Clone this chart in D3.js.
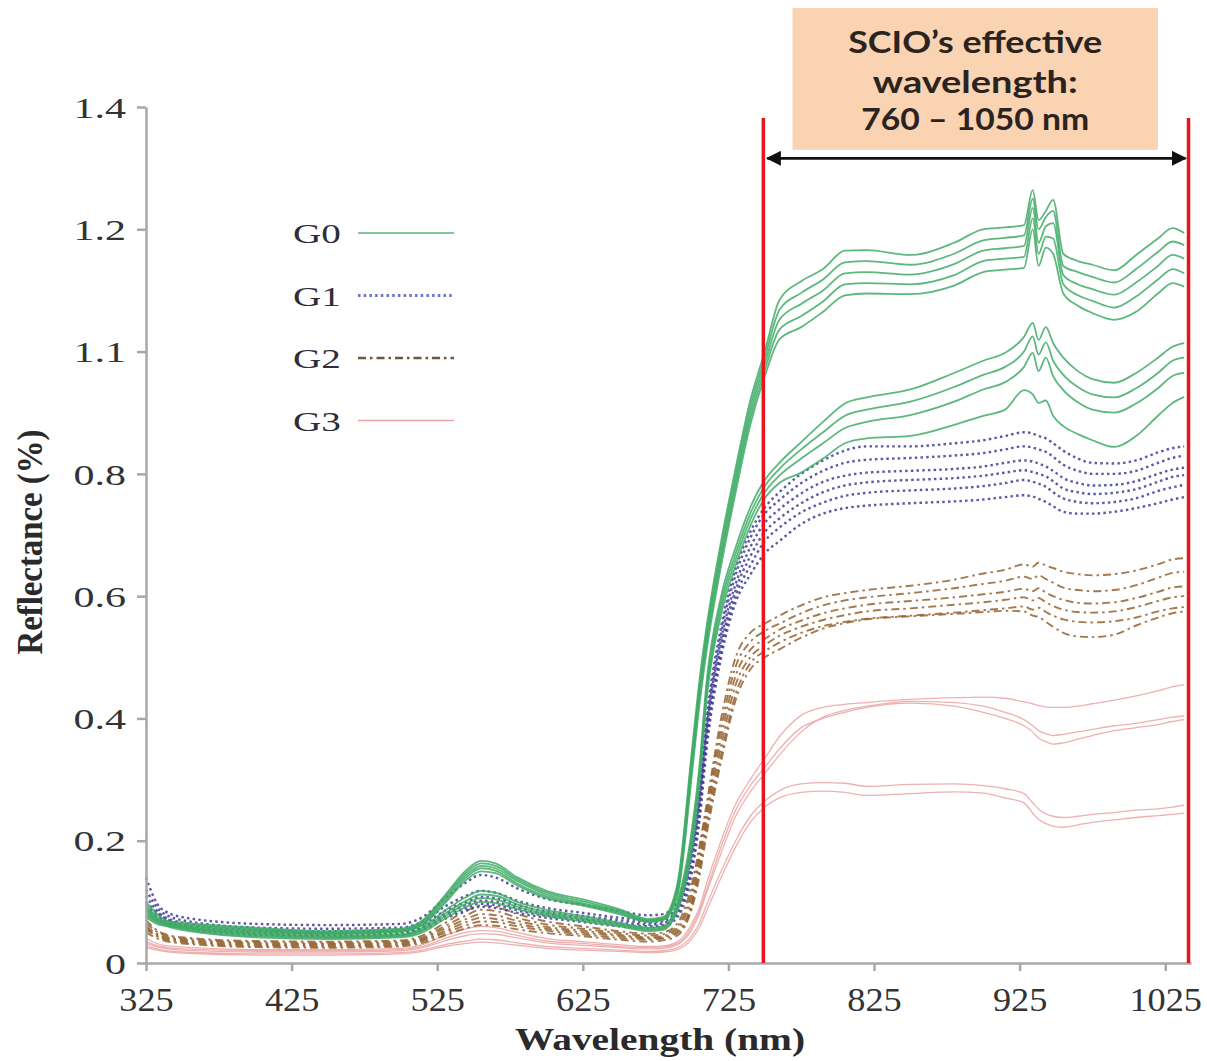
<!DOCTYPE html>
<html>
<head>
<meta charset="utf-8">
<script src="https://cdn.jsdelivr.net/npm/d3@7"></script>
<style>
  html, body { margin: 0; padding: 0; background: #fff; }
  svg { display: block; }
</style>
</head>
<body>
<div id="chart"></div>
<script>
// Wavelengths (nm) shared by every spectrum below
const WAVELENGTHS = [325, 335, 350, 400, 450, 500, 515, 530, 545, 555, 565, 580,
  600, 625, 650, 670, 680, 690, 700, 705, 710, 720, 730, 740, 750, 760, 775, 790,
  805, 820, 850, 880, 900, 915, 928, 934, 938, 943, 948, 955, 965, 975, 990, 1005,
  1020, 1030, 1038];

// G0 – upper bundle (highest NIR plateau)
const G0_UPPER = [
  [0.09,0.07,0.066,0.058,0.052,0.056,0.07,0.11,0.152,0.167,0.163,0.14,0.118,0.104,0.088,0.072,0.075,0.13,0.35,0.46,0.55,0.69,0.81,0.92,1.0,
   1.084,1.115,1.135,1.165,1.166,1.158,1.178,1.2,1.203,1.207,1.264,1.215,1.23,1.248,1.16,1.148,1.142,1.133,1.158,1.185,1.202,1.194],
  [0.085,0.068,0.064,0.056,0.05,0.054,0.068,0.107,0.148,0.163,0.159,0.137,0.115,0.101,0.086,0.07,0.073,0.125,0.34,0.45,0.54,0.68,0.8,0.91,0.99,
   1.068,1.096,1.118,1.146,1.148,1.142,1.16,1.182,1.186,1.19,1.25,1.2,1.22,1.23,1.14,1.13,1.122,1.113,1.135,1.163,1.18,1.174],
  [0.08,0.066,0.062,0.054,0.049,0.053,0.066,0.104,0.144,0.159,0.155,0.134,0.112,0.098,0.084,0.069,0.072,0.12,0.33,0.44,0.53,0.67,0.79,0.9,0.98,
   1.052,1.078,1.1,1.128,1.13,1.126,1.143,1.165,1.169,1.173,1.235,1.178,1.205,1.21,1.125,1.11,1.102,1.093,1.113,1.14,1.158,1.152],
  [0.078,0.064,0.06,0.052,0.048,0.052,0.064,0.1,0.14,0.155,0.151,0.13,0.109,0.096,0.082,0.068,0.071,0.115,0.32,0.43,0.52,0.66,0.78,0.89,0.97,
   1.036,1.058,1.082,1.11,1.112,1.11,1.125,1.148,1.152,1.155,1.218,1.16,1.188,1.185,1.11,1.092,1.083,1.072,1.09,1.118,1.135,1.128],
  [0.075,0.062,0.058,0.05,0.047,0.051,0.062,0.097,0.136,0.15,0.147,0.127,0.106,0.094,0.08,0.067,0.07,0.11,0.31,0.42,0.51,0.65,0.77,0.88,0.96,
   1.02,1.04,1.065,1.092,1.095,1.094,1.108,1.13,1.134,1.137,1.2,1.14,1.17,1.16,1.095,1.075,1.063,1.052,1.065,1.095,1.112,1.106]
];

// G0 – lower bundle
const G0_LOWER = [
  [0.1,0.075,0.06,0.048,0.044,0.047,0.058,0.085,0.108,0.118,0.115,0.1,0.087,0.077,0.066,0.058,0.06,0.1,0.22,0.32,0.46,0.6,0.68,0.745,0.79,
   0.818,0.852,0.885,0.915,0.925,0.938,0.965,0.985,0.998,1.024,1.047,1.019,1.04,1.014,0.99,0.968,0.955,0.949,0.965,0.99,1.008,1.014],
  [0.095,0.07,0.058,0.046,0.042,0.045,0.055,0.08,0.102,0.112,0.11,0.096,0.083,0.074,0.064,0.056,0.058,0.095,0.21,0.31,0.45,0.59,0.67,0.735,0.78,
   0.808,0.84,0.868,0.895,0.905,0.918,0.942,0.962,0.975,1.0,1.025,0.995,1.015,0.985,0.962,0.942,0.93,0.925,0.94,0.965,0.985,0.99],
  [0.09,0.068,0.056,0.044,0.041,0.044,0.053,0.076,0.097,0.106,0.104,0.092,0.08,0.071,0.062,0.054,0.056,0.09,0.2,0.3,0.44,0.58,0.66,0.725,0.77,
   0.797,0.825,0.85,0.875,0.885,0.896,0.918,0.938,0.95,0.975,0.998,0.968,0.99,0.96,0.937,0.917,0.905,0.9,0.915,0.94,0.96,0.965],
  [0.085,0.065,0.054,0.042,0.039,0.042,0.05,0.072,0.092,0.1,0.098,0.088,0.077,0.068,0.06,0.052,0.054,0.085,0.19,0.29,0.43,0.57,0.65,0.715,0.76,
   0.785,0.802,0.825,0.85,0.858,0.862,0.88,0.895,0.905,0.937,0.93,0.916,0.92,0.895,0.878,0.865,0.855,0.844,0.862,0.895,0.916,0.926]
];

// G1 – blue dotted
const G1_CURVES = [
  [0.14,0.09,0.075,0.064,0.062,0.064,0.075,0.105,0.132,0.144,0.14,0.122,0.105,0.095,0.085,0.078,0.08,0.1,0.2,0.28,0.4,0.55,0.645,0.705,0.745,
   0.77,0.8,0.822,0.838,0.845,0.845,0.85,0.855,0.862,0.868,0.866,0.862,0.858,0.85,0.838,0.825,0.818,0.817,0.822,0.835,0.842,0.845],
  [0.12,0.085,0.07,0.058,0.056,0.058,0.068,0.092,0.11,0.118,0.115,0.102,0.09,0.082,0.074,0.07,0.072,0.095,0.19,0.27,0.39,0.54,0.635,0.695,0.735,
   0.757,0.785,0.805,0.818,0.823,0.826,0.83,0.834,0.84,0.845,0.843,0.84,0.836,0.828,0.815,0.805,0.8,0.8,0.805,0.818,0.826,0.83],
  [0.11,0.08,0.066,0.054,0.052,0.054,0.063,0.085,0.1,0.108,0.106,0.095,0.084,0.077,0.07,0.066,0.068,0.09,0.18,0.26,0.38,0.53,0.62,0.68,0.72,
   0.742,0.768,0.787,0.797,0.802,0.805,0.808,0.812,0.818,0.822,0.82,0.817,0.812,0.805,0.793,0.785,0.781,0.782,0.788,0.8,0.807,0.81],
  [0.1,0.078,0.063,0.051,0.049,0.051,0.06,0.08,0.095,0.102,0.1,0.09,0.08,0.073,0.066,0.063,0.065,0.085,0.17,0.25,0.37,0.52,0.61,0.665,0.705,
   0.727,0.752,0.77,0.781,0.786,0.79,0.793,0.797,0.802,0.806,0.803,0.8,0.796,0.788,0.776,0.77,0.767,0.769,0.775,0.787,0.795,0.798],
  [0.095,0.075,0.06,0.048,0.046,0.048,0.057,0.076,0.09,0.097,0.095,0.086,0.077,0.07,0.063,0.06,0.062,0.08,0.16,0.24,0.36,0.51,0.6,0.65,0.69,
   0.712,0.737,0.753,0.764,0.769,0.773,0.776,0.78,0.785,0.79,0.787,0.784,0.779,0.77,0.76,0.754,0.752,0.754,0.76,0.772,0.778,0.782],
  [0.09,0.072,0.058,0.046,0.044,0.046,0.054,0.072,0.086,0.092,0.09,0.082,0.074,0.067,0.06,0.057,0.06,0.075,0.15,0.23,0.35,0.5,0.59,0.635,0.67,
   0.69,0.718,0.735,0.744,0.748,0.752,0.755,0.758,0.762,0.765,0.763,0.759,0.754,0.747,0.738,0.735,0.735,0.738,0.744,0.752,0.758,0.762]
];

// G2 – brown dash-dot
const G2_CURVES = [
  [0.07,0.05,0.042,0.036,0.035,0.037,0.045,0.065,0.085,0.094,0.092,0.08,0.068,0.06,0.052,0.048,0.05,0.065,0.13,0.19,0.26,0.4,0.5,0.54,0.555,
   0.568,0.585,0.598,0.605,0.61,0.617,0.627,0.637,0.643,0.652,0.648,0.655,0.65,0.646,0.64,0.636,0.634,0.636,0.642,0.652,0.66,0.662],
  [0.065,0.048,0.04,0.034,0.033,0.035,0.042,0.06,0.078,0.087,0.085,0.074,0.063,0.056,0.049,0.045,0.047,0.06,0.12,0.18,0.25,0.385,0.485,0.525,0.543,
   0.555,0.572,0.585,0.593,0.598,0.605,0.613,0.62,0.625,0.632,0.628,0.634,0.628,0.622,0.614,0.61,0.608,0.61,0.618,0.63,0.638,0.64],
  [0.06,0.045,0.038,0.032,0.031,0.033,0.04,0.056,0.072,0.08,0.078,0.069,0.059,0.053,0.046,0.042,0.044,0.056,0.11,0.17,0.24,0.37,0.47,0.512,0.53,
   0.545,0.56,0.572,0.58,0.586,0.592,0.598,0.603,0.607,0.612,0.608,0.613,0.606,0.6,0.594,0.589,0.588,0.59,0.597,0.607,0.614,0.616],
  [0.058,0.043,0.036,0.03,0.029,0.031,0.038,0.052,0.067,0.074,0.072,0.064,0.056,0.05,0.044,0.04,0.042,0.052,0.1,0.16,0.23,0.355,0.455,0.5,0.52,
   0.535,0.55,0.561,0.569,0.575,0.58,0.586,0.59,0.594,0.598,0.593,0.597,0.59,0.584,0.578,0.574,0.573,0.575,0.582,0.592,0.598,0.6],
  [0.055,0.041,0.034,0.028,0.027,0.029,0.036,0.049,0.062,0.068,0.067,0.06,0.053,0.047,0.041,0.038,0.04,0.049,0.095,0.15,0.22,0.34,0.44,0.49,0.51,
   0.524,0.54,0.551,0.558,0.563,0.568,0.573,0.577,0.58,0.583,0.578,0.581,0.574,0.568,0.562,0.558,0.557,0.559,0.565,0.575,0.58,0.582],
  [0.05,0.038,0.032,0.026,0.025,0.027,0.033,0.045,0.057,0.062,0.061,0.055,0.049,0.044,0.038,0.035,0.037,0.045,0.09,0.14,0.21,0.33,0.43,0.48,0.5,
   0.513,0.532,0.547,0.556,0.562,0.567,0.571,0.574,0.576,0.575,0.568,0.566,0.558,0.55,0.54,0.534,0.533,0.537,0.552,0.565,0.572,0.575]
];

// G3 – pink solid
const G3_CURVES = [
  [0.04,0.03,0.026,0.022,0.022,0.024,0.03,0.045,0.056,0.06,0.058,0.05,0.04,0.035,0.03,0.027,0.028,0.035,0.065,0.09,0.13,0.2,0.26,0.3,0.335,
   0.37,0.405,0.418,0.423,0.426,0.431,0.434,0.435,0.433,0.427,0.424,0.421,0.419,0.418,0.418,0.42,0.424,0.43,0.437,0.445,0.452,0.455],
  [0.035,0.027,0.023,0.02,0.02,0.022,0.027,0.04,0.05,0.053,0.052,0.045,0.036,0.032,0.027,0.025,0.026,0.032,0.06,0.085,0.12,0.19,0.25,0.29,0.32,
   0.35,0.385,0.4,0.41,0.418,0.425,0.42,0.41,0.4,0.388,0.378,0.368,0.362,0.358,0.36,0.366,0.372,0.38,0.385,0.39,0.395,0.398],
  [0.032,0.025,0.021,0.018,0.018,0.02,0.025,0.036,0.045,0.048,0.047,0.041,0.033,0.029,0.025,0.023,0.024,0.03,0.055,0.08,0.115,0.18,0.24,0.28,0.31,
   0.34,0.378,0.402,0.413,0.42,0.428,0.426,0.42,0.41,0.398,0.388,0.38,0.375,0.372,0.374,0.378,0.382,0.388,0.392,0.398,0.402,0.404],
  [0.028,0.022,0.018,0.015,0.015,0.017,0.021,0.03,0.036,0.039,0.038,0.033,0.027,0.024,0.021,0.019,0.02,0.025,0.045,0.065,0.095,0.15,0.2,0.24,0.265,
   0.282,0.293,0.295,0.294,0.289,0.292,0.293,0.29,0.285,0.277,0.262,0.252,0.244,0.24,0.238,0.24,0.243,0.246,0.25,0.252,0.255,0.258],
  [0.025,0.02,0.016,0.013,0.013,0.015,0.019,0.027,0.032,0.034,0.033,0.029,0.024,0.021,0.019,0.017,0.018,0.022,0.04,0.058,0.085,0.14,0.19,0.23,0.255,
   0.27,0.279,0.281,0.279,0.274,0.277,0.28,0.278,0.27,0.262,0.245,0.235,0.228,0.224,0.222,0.226,0.23,0.234,0.238,0.241,0.243,0.245]
];

const GROUPS = ['G0', 'G1', 'G2', 'G3'];
const X_TICKS = [325, 425, 525, 625, 725, 825, 925, 1025];
const Y_TICKS = [0, 0.2, 0.4, 0.6, 0.8, 1.0, 1.2, 1.4];
const Y_TICK_LABELS = ['0', '0.2', '0.4', '0.6', '0.8', '1.1', '1.2', '1.4'];

// SCIO annotation (in data units: nm / reflectance)
const SCIO_LINES_NM = [749, 1041];
const SCIO_NOTE = ['SCIO\u2019s effective', 'wavelength:', '760 \u2013 1050 nm'];

// ---- styles ----
const STYLE = {
  G0: { color: '#3fab66', width: 1.8, dash: null },
  G1: { color: '#3f3d96', width: 2.4, dash: '2.5,3.2' },
  G2: { color: '#94612f', width: 1.9, dash: '8,4,2.5,4' },
  G3: { color: '#eba3a3', width: 1.3, dash: null }
};
const LEGEND_COLORS = { G0: '#86c59f', G1: '#7174c4', G2: '#6d5743', G3: '#f0a3a3' };
const SERIF = "'Liberation Serif', 'Times New Roman', serif";

const W = 1207, H = 1061;
const svg = d3.select('#chart').append('svg')
  .attr('width', W).attr('height', H)
  .style('background', '#fff');

const x = d3.scaleLinear().domain([325, 1042.7]).range([146, 1191]);
const y = d3.scaleLinear().domain([0, 1.4]).range([963, 107]);

// ---- spectra ----
const line = d3.line()
  .x((d, i) => x(WAVELENGTHS[i]))
  .y(d => y(d))
  .curve(d3.curveMonotoneX);

const series = [
  { group: 'G3', curves: G3_CURVES },
  { group: 'G2', curves: G2_CURVES },
  { group: 'G1', curves: G1_CURVES },
  { group: 'G0', curves: G0_LOWER },
  { group: 'G0', curves: G0_UPPER }
];

const plot = svg.append('g').attr('class', 'spectra');
series.forEach(s => {
  const st = STYLE[s.group];
  plot.append('g').selectAll('path')
    .data(s.curves)
    .join('path')
    .attr('d', line)
    .attr('fill', 'none')
    .attr('stroke', st.color)
    .attr('stroke-width', st.width)
    .attr('stroke-dasharray', st.dash)
    .attr('stroke-linejoin', 'round')
    .attr('opacity', 0.85);
});

// ---- axes ----
const axisColor = '#a8a8a8';

const yAxis = svg.append('g')
  .attr('transform', `translate(${x(325)},0)`)
  .call(d3.axisLeft(y).tickValues(Y_TICKS).tickSize(9).tickSizeOuter(0)
    .tickFormat((d, i) => Y_TICK_LABELS[i]));
yAxis.selectAll('path, line').attr('stroke', axisColor).attr('stroke-width', 2.5);
yAxis.selectAll('text')
  .attr('font-family', SERIF).attr('font-size', 30).attr('fill', '#333')
  .attr('x', -20 / 1.4).attr('dy', '0.34em')
  .attr('transform', 'scale(1.4,1)');

const xAxis = svg.append('g')
  .attr('transform', `translate(0,${y(0)})`)
  .call(d3.axisBottom(x).tickValues(X_TICKS).tickSize(8).tickSizeOuter(0)
    .tickFormat(d3.format('d')));
xAxis.selectAll('path, line').attr('stroke', axisColor).attr('stroke-width', 2.5);
xAxis.selectAll('text')
  .attr('font-family', SERIF).attr('font-size', 33).attr('fill', '#333')
  .attr('y', 48).attr('dy', 0)
  .attr('transform', 'scale(1.1,1)')
  .attr('x', 0)
  .attr('text-anchor', 'middle');

// axis titles
svg.append('text')
  .attr('transform', 'translate(42,542) rotate(-90) scale(1,1.2)')
  .attr('text-anchor', 'middle')
  .attr('font-family', SERIF).attr('font-weight', 'bold')
  .attr('font-size', 30).attr('fill', '#2a2a2a')
  .attr('textLength', 225).attr('lengthAdjust', 'spacingAndGlyphs')
  .text('Reflectance (%)');

svg.append('text')
  .attr('x', 660).attr('y', 1050)
  .attr('text-anchor', 'middle')
  .attr('font-family', SERIF).attr('font-weight', 'bold')
  .attr('font-size', 31).attr('fill', '#2a2a2a')
  .attr('textLength', 290).attr('lengthAdjust', 'spacingAndGlyphs')
  .text('Wavelength (nm)');

// ---- legend ----
const legend = svg.append('g').attr('class', 'legend');
GROUPS.forEach((g, i) => {
  const rowY = 233 + i * 62.5;
  legend.append('text')
    .attr('transform', `translate(293,${rowY + 10}) scale(1.4,1)`)
    .attr('font-family', SERIF).attr('font-size', 28).attr('fill', '#2e2e3a')
    .text(g);
  legend.append('line')
    .attr('x1', 358).attr('x2', 454)
    .attr('y1', rowY).attr('y2', rowY)
    .attr('stroke', LEGEND_COLORS[g])
    .attr('stroke-width', STYLE[g].width + 0.4)
    .attr('stroke-dasharray', STYLE[g].dash);
});

// ---- SCIO annotation ----
const note = svg.append('g').attr('class', 'scio-note');
SCIO_LINES_NM.forEach(nm => {
  note.append('line')
    .attr('x1', x(nm)).attr('x2', x(nm))
    .attr('y1', y(1.382)).attr('y2', y(0))
    .attr('stroke', '#e8141b').attr('stroke-width', 3.5);
});

note.append('rect')
  .attr('x', x(769)).attr('y', y(1.562))
  .attr('width', x(1020) - x(769)).attr('height', y(1.33) - y(1.562))
  .attr('fill', '#f9d3b2');

const noteLens = [254, 205, 228];
const noteBase = [1.488, 1.423, 1.362];
SCIO_NOTE.forEach((t, i) => {
  note.append('text')
    .attr('x', x(894.5)).attr('y', y(noteBase[i]))
    .attr('text-anchor', 'middle')
    .attr('font-family', "Lato, 'Open Sans', sans-serif")
    .attr('font-weight', 'bold').attr('font-size', 31)
    .attr('fill', '#2b2320')
    .attr('textLength', noteLens[i]).attr('lengthAdjust', 'spacingAndGlyphs')
    .text(t);
});

const defs = svg.append('defs');
defs.append('marker')
  .attr('id', 'arrow')
  .attr('viewBox', '0 0 10 10')
  .attr('refX', 9).attr('refY', 5)
  .attr('markerUnits', 'userSpaceOnUse')
  .attr('markerWidth', 18).attr('markerHeight', 15)
  .attr('orient', 'auto-start-reverse')
  .append('path')
  .attr('d', 'M0,0 L10,5 L0,10 Z')
  .attr('fill', '#111');

note.append('line')
  .attr('x1', x(SCIO_LINES_NM[0]) + 4).attr('x2', x(SCIO_LINES_NM[1]) - 3)
  .attr('y1', y(1.316)).attr('y2', y(1.316))
  .attr('stroke', '#111').attr('stroke-width', 2.8)
  .attr('marker-start', 'url(#arrow)')
  .attr('marker-end', 'url(#arrow)');
</script>
</body>
</html>
